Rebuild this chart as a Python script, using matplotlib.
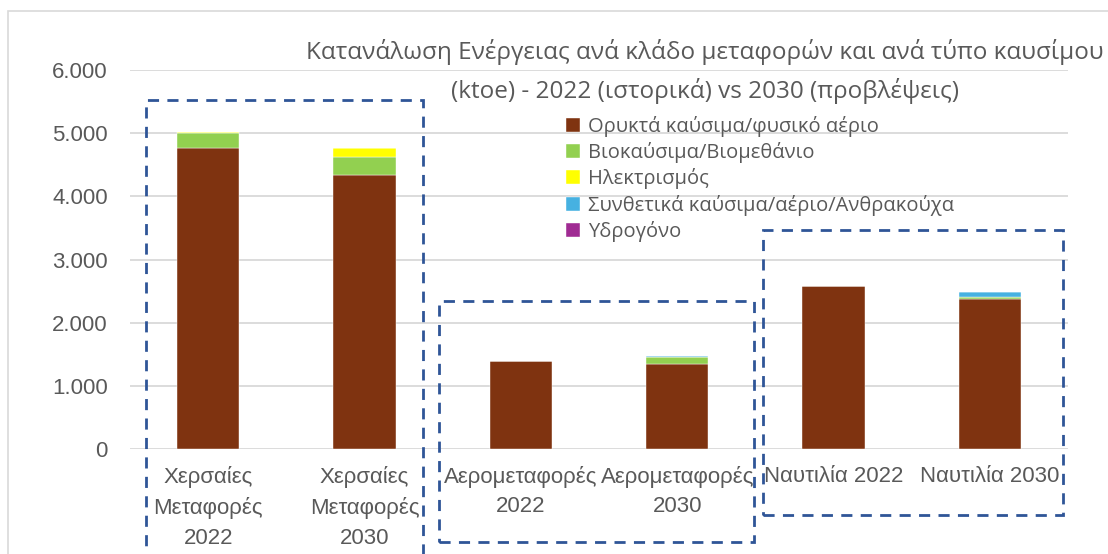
import numpy as np
import matplotlib
matplotlib.use('Agg')
import matplotlib.pyplot as plt
from matplotlib.patches import Rectangle


# Energy consumption per transport sector and fuel type (ktoe), 2022 vs 2030

categories = ['Χερσαίες\nΜεταφορές\n2022', 'Χερσαίες\nΜεταφορές\n2030',
              'Αερομεταφορές\n2022', 'Αερομεταφορές\n2030',
              'Ναυτιλία 2022', 'Ναυτιλία 2030']
fossil = [4770, 4340, 1390, 1350, 2580, 2375]
biofuels = [235, 275, 0, 100, 0, 25]
electricity = [15, 145, 0, 0, 0, 0]
synthetic = [0, 0, 0, 20, 0, 85]
hydrogen = [0, 0, 0, 0, 0, 0]

series_names = ['Ορυκτά καύσιμα/φυσικό αέριο', 'Βιοκαύσιμα/Βιομεθάνιο',
                'Ηλεκτρισμός', 'Συνθετικά καύσιμα/αέριο/Ανθρακούχα', 'Υδρογόνο']
series_colors = ['#7F3310', '#92D050', '#FFFF00', '#46B1E1', '#A02B93']

title_lines = ['Κατανάλωση Ενέργειας ανά κλάδο μεταφορών και ανά τύπο καυσίμου',
               '(ktoe) - 2022 (ιστορικά) vs 2030 (προβλέψεις)']

TEXT = '#595959'
GRID = '#D9D9D9'
BOX = '#2F5597'

W, H = 1108, 554
fig = plt.figure(figsize=(W / 100, H / 100), dpi=100)
ax = fig.add_axes([130 / W, 1 - 449 / H, (1068 - 130) / W, (449 - 70) / H])

x = np.arange(len(categories))
bottom = np.zeros(len(categories))
handles = []
for vals, name, col in zip([fossil, biofuels, electricity, synthetic, hydrogen],
                           series_names, series_colors):
    b = ax.bar(x, vals, bottom=bottom, width=0.4, color=col, label=name,
               edgecolor='white', linewidth=0.3, zorder=3)
    handles.append(b)
    bottom += np.array(vals)

ax.set_xlim(-0.5, len(categories) - 0.5)
ax.set_ylim(0, 6000)
ax.set_yticks(np.arange(0, 6001, 1000))
ax.set_yticklabels(['0'] + [f'{v:,}'.replace(',', '.') for v in range(1000, 6001, 1000)],
                   fontsize=16, color=TEXT, family='Liberation Sans')
ax.set_xticks(x)
ax.set_xticklabels(categories, fontsize=16, color=TEXT, family='Liberation Sans',
                   linespacing=1.55, va='top')
ax.tick_params(axis='both', length=0)
ax.tick_params(axis='x', pad=12)
ax.tick_params(axis='y', pad=16)
ax.grid(axis='y', color=GRID, linewidth=1.3, zorder=0)
ax.set_axisbelow(True)
for spine in ax.spines.values():
    spine.set_visible(False)

for line, ypix in zip(title_lines, [52, 91]):
    fig.text(705 / W, 1 - ypix / H, line, ha='center', va='center', fontsize=17.5,
             color=TEXT, family='Open Sans')

ax.legend(handles=handles, loc='upper left', bbox_to_anchor=(566 / W, 1 - 116 / H),
          bbox_transform=fig.transFigure, frameon=False,
          labelcolor=TEXT, handlelength=0.7, handleheight=0.7, handletextpad=0.4,
          labelspacing=0.26, borderaxespad=0, borderpad=0,
          prop={'family': 'Open Sans', 'size': 14.5})

# outer chart frame
fig.add_artist(Rectangle((8 / W, -0.1), 1.2, 1 - 11 / H + 0.1, transform=fig.transFigure,
                         fill=False, edgecolor=GRID, linewidth=1.2))

# dashed group boxes (pixel coords: left, top, right, bottom)
boxes = [(146, 100, 423, 600), (439, 301, 754, 542), (763, 230, 1063, 515)]
for l, t, r, btm in boxes:
    fig.add_artist(Rectangle((l / W, 1 - btm / H), (r - l) / W, (btm - t) / H,
                             transform=fig.transFigure, fill=False, edgecolor=BOX,
                             linewidth=2, linestyle=(0, (4, 3)), clip_on=False))

fig.savefig('out.png', dpi=100)
plt.close(fig)
